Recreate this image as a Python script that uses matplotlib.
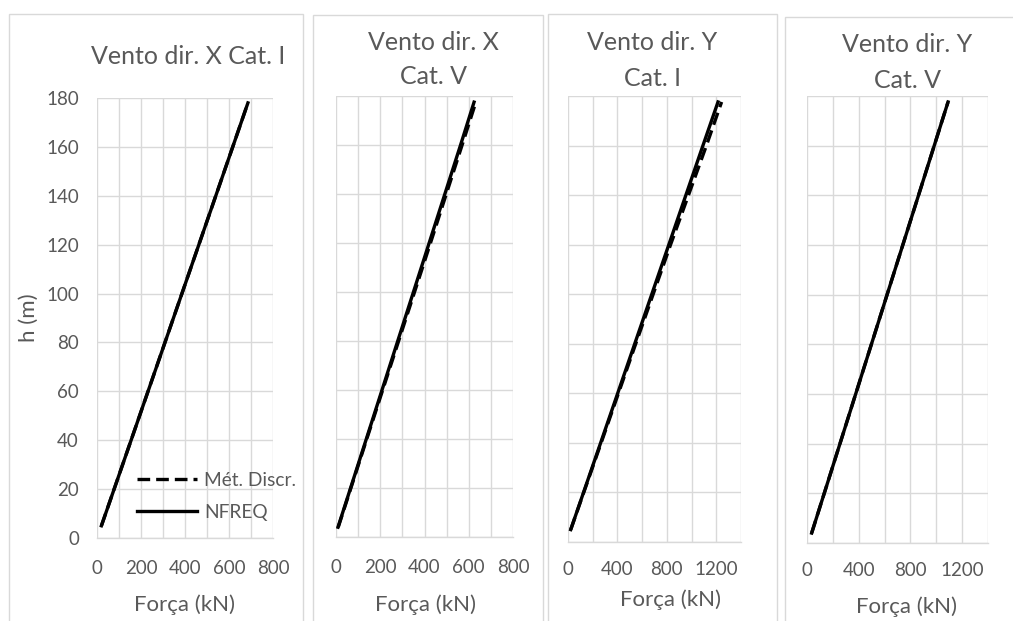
import matplotlib
matplotlib.use("Agg")
import matplotlib.pyplot as plt
from matplotlib.patches import Rectangle
from matplotlib.ticker import MultipleLocator

# ---------------- data ----------------
titles = [["Vento dir. X Cat. I"], ["Vento dir. X", "Cat. V"],
          ["Vento dir. Y", "Cat. I"], ["Vento dir. Y", "Cat. V"]]
series_names = ["Mét. Discr.", "NFREQ"]

h_p1 = [5, 40, 80, 120, 160, 178]
disc_p1 = [20, 155, 309, 463, 617, 686]
nfreq_p1 = [20, 155, 309, 463, 617, 686]

h_p2 = [4, 40, 80, 120, 160, 177.5]
disc_p2 = [10, 139, 283, 427, 570, 632]
nfreq_p2 = [9, 137, 279, 421, 563, 624]

h_p3 = [5, 40, 80, 120, 160, 177.6]
disc_p3 = [22, 268, 548, 830, 1120, 1243]
nfreq_p3 = [22, 264, 540, 816, 1092, 1214]

h_p4 = [4, 40, 80, 120, 160, 177.6]
disc_p4 = [36, 255, 498, 741, 984, 1091]
nfreq_p4 = [36, 255, 498, 741, 984, 1091]

x_max = [800, 800, 1400, 1400]
x_label_step = [200, 200, 400, 400]
x_grid_step = [100, 100, 200, 200]
y_max = 180
y_step = 20
xlabel = "Força (kN)"
ylabel = "h (m)"

# ---------------- layout ----------------
W, H = 1013, 621
plt.rcParams['font.family'] = ['Lato', 'DejaVu Sans']
TXT = "#595959"
GRID = "#d9d9d9"

fig = plt.figure(figsize=(W / 100, H / 100), dpi=100)

def fx(px):
    return px / W

def fy(py):
    return 1 - py / H

# panel borders (chart areas), pixel coords
borders = [(9, 14, 303), (313, 15, 543), (548, 14, 777), (785, 17, 1030)]
for l, t, r in borders:
    fig.patches.append(Rectangle((fx(l), fy(H + 20)), fx(r - l), (H + 20 - t) / H,
                                 transform=fig.transFigure, fill=False,
                                 edgecolor=GRID, linewidth=1.0))

# plot areas: left, top, right, bottom in px
areas = [(97, 98, 273, 538), (336, 96, 513, 537), (568, 96, 741, 542), (807, 96, 988, 543)]
data = [(h_p1, disc_p1, nfreq_p1), (h_p2, disc_p2, nfreq_p2),
        (h_p3, disc_p3, nfreq_p3), (h_p4, disc_p4, nfreq_p4)]
title_pos = [(188, [56]), (433, [42, 77]), (652, [42, 79]), (907, [44, 81])]
xlabel_pos = [(185, 605), (425, 605), (671, 600), (906, 607)]

for i, (l, t, r, b) in enumerate(areas):
    ax = fig.add_axes([fx(l), fy(b), fx(r - l), (b - t) / H])
    h, disc, nfreq = data[i]
    ax.plot(disc, h, color="black", lw=2.4, linestyle=(0, (3.8, 1.8)),
            solid_capstyle="butt", label=series_names[0], zorder=3)
    ax.plot(nfreq, h, color="black", lw=2.4, label=series_names[1], zorder=4)
    ax.set_xlim(0, x_max[i])
    ax.set_ylim(0, y_max)
    ax.xaxis.set_major_locator(MultipleLocator(x_label_step[i]))
    ax.xaxis.set_minor_locator(MultipleLocator(x_grid_step[i]))
    ax.yaxis.set_major_locator(MultipleLocator(y_step))
    ax.grid(True, which="both", axis="x", color=GRID, lw=1.0)
    ax.grid(True, which="major", axis="y", color=GRID, lw=1.0)
    ax.set_axisbelow(True)
    for s in ["top", "right", "left"]:
        ax.spines[s].set_visible(False)
    ax.spines["bottom"].set_color(GRID)
    ax.spines["bottom"].set_linewidth(1.0)
    ax.tick_params(axis="both", which="both", length=0, labelsize=13.5, labelcolor=TXT)
    ax.tick_params(axis="x", pad=15.5 if i < 2 else 14)
    ax.tick_params(axis="y", pad=13)
    if i > 0:
        ax.tick_params(axis="y", labelleft=False)
    else:
        ax.set_ylabel(ylabel, fontsize=16, color=TXT)
        ax.yaxis.set_label_coords((39 - l) / (r - l), 0.5)
        ax.legend(loc="lower right", bbox_to_anchor=((304 - l) / (r - l), 0.022),
                  frameon=False, fontsize=13.8, labelcolor=TXT, handlelength=3.1,
                  handletextpad=0.4, labelspacing=0.78, borderaxespad=0)
    xc, ys = title_pos[i]
    lines = titles[i]
    for txt, yy in zip(lines, ys):
        fig.text(fx(xc), fy(yy), txt, ha="center", va="center", fontsize=18, color=TXT)
    xx, yy = xlabel_pos[i]
    fig.text(fx(xx), fy(yy), xlabel, ha="center", va="center", fontsize=16, color=TXT)

fig.savefig("out.png", dpi=100)
